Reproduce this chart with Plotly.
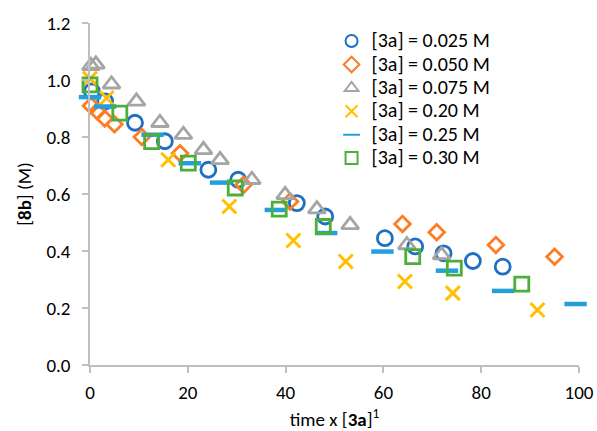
import plotly.graph_objects as go

# ---- data ----
x_025 = [0.4, 3.1, 9.2, 15.3, 24.2, 30.3, 42.3, 48.1, 60.3, 66.5, 72.3, 78.3, 84.4]
y_025 = [0.96, 0.925, 0.85, 0.785, 0.685, 0.65, 0.568, 0.521, 0.445, 0.416, 0.392, 0.365, 0.345]

x_050 = [0.2, 1.5, 3.0, 5.0, 10.6, 18.4, 31.4, 40.9, 63.9, 70.9, 83.0, 95.0]
y_050 = [0.91, 0.89, 0.865, 0.845, 0.80, 0.743, 0.632, 0.574, 0.495, 0.466, 0.421, 0.38]

x_075 = [0.2, 1.2, 4.4, 9.5, 14.3, 19.1, 23.2, 26.6, 33.1, 39.9, 46.4, 53.2, 64.8, 71.9]
y_075 = [1.05, 1.055, 0.985, 0.925, 0.85, 0.808, 0.755, 0.72, 0.65, 0.597, 0.547, 0.492, 0.421, 0.386]

x_20 = [0.0, 3.4, 16.0, 28.5, 41.6, 52.3, 64.4, 74.2, 91.5]
y_20 = [1.005, 0.937, 0.72, 0.556, 0.437, 0.363, 0.293, 0.252, 0.193]

x_25 = [0.0, 3.1, 12.8, 20.4, 26.8, 38.0, 48.3, 59.8, 73.0, 84.5, 99.3]
y_25 = [0.94, 0.907, 0.808, 0.708, 0.64, 0.544, 0.463, 0.398, 0.331, 0.26, 0.214]

x_30 = [0.0, 6.1, 12.6, 20.1, 29.7, 38.7, 47.7, 66.0, 74.5, 88.3]
y_30 = [0.983, 0.884, 0.784, 0.708, 0.621, 0.547, 0.486, 0.38, 0.34, 0.284]

names = ["[3a] = 0.025 M", "[3a] = 0.050 M", "[3a] = 0.075 M",
         "[3a] = 0.20 M", "[3a] = 0.25 M", "[3a] = 0.30 M"]

x_ticks = [0, 20, 40, 60, 80, 100]
y_ticks = [0.0, 0.2, 0.4, 0.6, 0.8, 1.0, 1.2]

FONT = "Calibri, Carlito, Lato, sans-serif"
AXIS_COLOR = "#BFBFBF"

series = [
    (x_025, y_025, "circle-open", "#1F70C3", 15, 2.8),
    (x_050, y_050, "diamond-open", "#FF7C24", 12, 2.8),
    (x_075, y_075, "triangle-up-open", "#A5A5A5", 15, 2.8),
    (x_20, y_20, "x-thin-open", "#FFC000", 14, 3.0),
    (x_25, y_25, "line-ew-open", "#23A0DC", 16, 4.5),
    (x_30, y_30, "square-open", "#4BAF39", 14, 2.8),
]

fig = go.Figure()
for (xs, ys, sym, col, size, lw), name in zip(series, names):
    fig.add_trace(go.Scatter(
        x=xs, y=ys, mode="markers", cliponaxis=False,
        name='<span style="font-size:20px">' + name + '</span>',
        marker=dict(symbol=sym, size=size, color=col,
                    line=dict(color=col, width=lw)),
    ))

fig.update_layout(
    width=597, height=431,
    margin=dict(l=90, r=18, t=23, b=66),
    paper_bgcolor="white", plot_bgcolor="white",
    font=dict(family=FONT, size=19, color="#000000"),
    showlegend=True,
    legend=dict(x=0.494, y=0.996, xanchor="left", yanchor="top",
                bgcolor="rgba(0,0,0,0)", font=dict(size=15.7),
                itemsizing="constant"),
    xaxis=dict(
        range=[0, 100], tickvals=x_ticks, showgrid=False, zeroline=False,
        automargin=False,
        showline=True, linecolor=AXIS_COLOR, linewidth=1.5,
        ticks="outside", ticklen=6, tickcolor=AXIS_COLOR, tickwidth=1.5,
        ticklabelstandoff=3,
        title=dict(text="time x [<b>3a</b>]<sup>1</sup>", font=dict(size=19), standoff=11),
    ),
    yaxis=dict(
        range=[0, 1.2], tickvals=y_ticks, tickformat=".1f", showgrid=False,
        zeroline=False, automargin=False,
        showline=True, linecolor=AXIS_COLOR, linewidth=1.5,
        ticks="outside", ticklen=6, tickcolor=AXIS_COLOR, tickwidth=1.5,
        ticklabelstandoff=8,
        title=dict(text="[<b>8b</b>] (M)", font=dict(size=19), standoff=10),
    ),
)

fig.write_html("out.html", config={"displayModeBar": False},
               post_script="document.body.style.margin='0px';")
